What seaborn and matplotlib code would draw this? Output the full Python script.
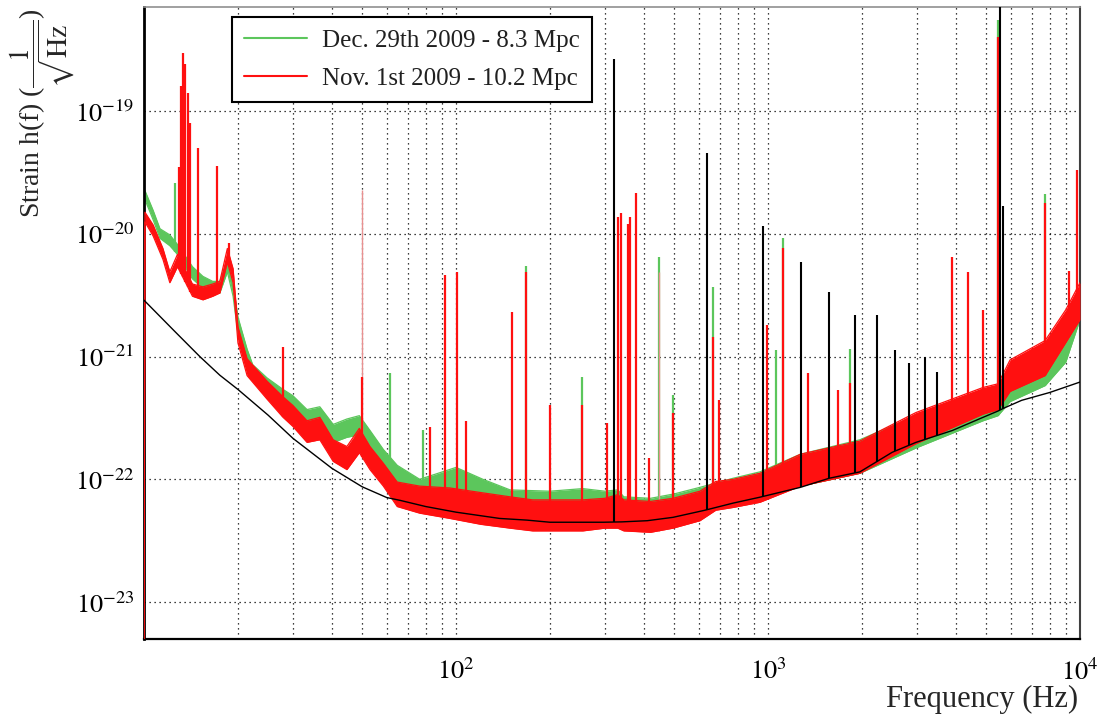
import numpy as np
import pandas as pd
import matplotlib
matplotlib.use("Agg")
import matplotlib.pyplot as plt
from matplotlib.lines import Line2D
from matplotlib.ticker import FixedLocator, NullFormatter, FuncFormatter, LogLocator
import seaborn as sns

# ---------------- data ----------------
# Black reference (design) sensitivity curve
ref_freq = [10, 12.5, 15.1, 17.5, 20, 25, 30, 40, 50, 60, 66, 80, 100, 138, 169,
            200, 296, 340, 410, 496, 628, 773, 942, 1270, 1570, 1970, 2500, 2980,
            3900, 4890, 5460, 5700, 6500, 8000, 10000]
ref_strain = [2.88e-21, 1.62e-21, 1.0e-21, 7.05e-22, 5.4e-22, 3.33e-22, 2.16e-22,
              1.23e-22, 8.7e-23, 7.1e-23, 6.75e-23, 6.0e-23, 5.4e-23, 4.8e-23,
              4.65e-23, 4.47e-23, 4.47e-23, 4.5e-23, 4.6e-23, 4.9e-23, 5.6e-23,
              6.4e-23, 7.15e-23, 8.6e-23, 1.02e-22, 1.15e-22, 1.66e-22, 2.0e-22,
              2.5e-22, 3.2e-22, 3.6e-22, 3.8e-22, 4.4e-22, 5.1e-22, 6.2e-22]
ref_spike_freq = [321, 637, 964, 1276, 1570, 1900, 2235, 2555, 2830, 3185, 3480, 5540, 5660]
ref_spike_peak = [2.65e-19, 4.55e-20, 1.16e-20, 5.9e-21, 3.35e-21, 2.2e-21, 2.2e-21,
                  1.13e-21, 8.8e-22, 9.9e-22, 7.5e-22, 1.0e-18, 1.68e-20]

# Nov. 1st 2009 (red): noise band lower / upper edges
nov_freq = [10.0, 10.07, 10.7, 11.5, 12.1, 12.8, 14.3, 15.45, 16.6, 17.5, 18.5, 19.3,
            20.0, 21.4, 24.8, 27.9, 30.0, 33.3, 36.6, 40.4, 44.7, 49.0, 53.0, 58.5,
            64.8, 76.5, 95.6, 120, 149, 176, 255, 300, 330, 345, 420, 496, 605,
            680, 773, 942, 1270, 1970, 2980, 4890, 5460, 5970, 7730, 9000, 10000]
nov_low = [5.0e-24, 1.25e-20, 9.6e-21, 6.2e-21, 4.0e-21, 5.4e-21, 3.1e-21, 2.9e-21,
           3.1e-21, 3.3e-21, 5.9e-21, 4.0e-21, 1.3e-21, 7.0e-22, 4.5e-22, 3.2e-22,
           2.7e-22, 2.0e-22, 2.1e-22, 1.4e-22, 1.2e-22, 1.65e-22, 1.2e-22, 8.8e-23,
           6.0e-23, 5.3e-23, 4.8e-23, 4.3e-23, 4.0e-23, 3.8e-23, 3.8e-23, 4.0e-23,
           4.0e-23, 3.8e-23, 3.7e-23, 4.0e-23, 4.6e-23, 5.6e-23, 5.9e-23, 6.5e-23,
           8.8e-23, 1.12e-22, 1.95e-22, 3.4e-22, 3.7e-22, 5.2e-22, 7.0e-22, 1.3e-21,
           2.0e-21]
nov_high = [5.0e-24, 1.5e-20, 1.18e-20, 7.6e-21, 4.9e-21, 6.8e-21, 3.9e-21, 3.7e-21,
            3.9e-21, 4.1e-21, 7.6e-21, 5.2e-21, 1.75e-21, 9.6e-22, 6.3e-22, 4.7e-22,
            4.0e-22, 3.0e-22, 3.2e-22, 2.1e-22, 1.85e-22, 2.6e-22, 1.85e-22, 1.35e-22,
            9.5e-23, 8.8e-23, 8.5e-23, 7.8e-23, 7.2e-23, 6.8e-23, 6.8e-23, 7.0e-23,
            7.5e-23, 6.8e-23, 6.6e-23, 7.0e-23, 8.0e-23, 9.6e-23, 1.0e-22, 1.12e-22,
            1.6e-22, 2.05e-22, 3.5e-22, 5.6e-22, 6.0e-22, 9.4e-22, 1.35e-21, 2.4e-21,
            4.0e-21]
nov_spike_freq = [12.9, 13.15, 13.3, 13.55, 13.8, 14.05, 14.9, 17.1, 18.7, 27.9,
                  50.0, 82.5, 92.0, 100.5, 108.0, 151.0, 168.0, 200.0, 253.0, 305.0,
                  330.0, 338.0, 356.0, 361.0, 378.0, 415.0, 496.0, 666.0, 697.0, 993.0,
                  1117.0, 1343.0, 1680.0, 1830.0, 3890.0, 4380.0, 4890.0, 5460.0,
                  7730.0, 9230.0, 9780.0]
nov_spike_peak = [3.5e-20, 1.6e-19, 2.97e-19, 2.4e-19, 1.4e-19, 8.0e-20, 5.0e-20,
                  3.6e-20, 8.4e-21, 1.19e-21, 6.8e-22, 2.66e-22, 4.6e-21, 4.9e-21,
                  3.0e-22, 2.3e-21, 4.9e-21, 4.0e-22, 4.0e-22, 2.86e-22, 1.37e-20,
                  1.48e-20, 1.2e-20, 1.37e-20, 2.15e-20, 1.5e-22, 3.5e-22, 1.44e-21,
                  4.4e-22, 1.8e-21, 7.6e-21, 7.3e-22, 5.3e-22, 6.1e-22, 6.45e-21,
                  4.9e-21, 2.4e-21, 4.0e-19, 1.78e-20, 5.0e-21, 3.3e-20]
nov_faint_freq = [50.0, 448.0]
nov_faint_peak = [2.27e-20, 4.9e-21]

# Dec. 29th 2009 (green): noise band lower / upper edges
dec_freq = [10.07, 10.7, 11.25, 12.1, 12.8, 14.3, 15.45, 16.6, 17.5, 18.5, 19.3,
            20.0, 21.4, 22.3, 24.8, 27.9, 30.0, 33.3, 36.6, 40.4, 44.7, 49.0, 53.0,
            58.5, 64.8, 76.5, 100, 122, 149, 200, 255, 300, 330, 345, 420, 500, 605,
            773, 942, 1270, 1970, 2980, 4890, 5460, 5970, 7730, 9000, 10000]
dec_low = [1.9e-20, 1.3e-20, 9.2e-21, 8.0e-21, 6.8e-21, 4.3e-21, 3.6e-21, 3.3e-21,
           3.3e-21, 4.9e-21, 3.1e-21, 1.55e-21, 8.7e-22, 6.6e-22, 5.1e-22, 4.0e-22,
           3.6e-22, 2.7e-22, 2.9e-22, 2.0e-22, 2.2e-22, 2.3e-22, 1.75e-22, 1.25e-22,
           9.0e-23, 6.8e-23, 7.0e-23, 6.2e-23, 5.2e-23, 5.0e-23, 5.2e-23, 5.0e-23,
           5.0e-23, 4.6e-23, 4.6e-23, 5.4e-23, 6.0e-23, 6.8e-23, 7.5e-23, 8.8e-23,
           1.12e-22, 1.8e-22, 3.0e-22, 3.3e-22, 4.3e-22, 5.8e-22, 9.0e-22, 2.0e-21]
dec_high = [2.25e-20, 1.55e-20, 1.1e-20, 9.8e-21, 8.2e-21, 5.4e-21, 4.5e-21, 4.1e-21,
            4.1e-21, 6.2e-21, 3.9e-21, 2.1e-21, 1.15e-21, 8.6e-22, 6.7e-22, 5.4e-22,
            4.8e-22, 3.7e-22, 3.9e-22, 2.8e-22, 3.1e-22, 3.3e-22, 2.5e-22, 1.75e-22,
            1.3e-22, 1.0e-22, 1.25e-22, 1.0e-22, 8.2e-23, 8.0e-23, 8.4e-23, 8.0e-23,
            8.2e-23, 7.2e-23, 7.0e-23, 7.6e-23, 8.6e-23, 1.02e-22, 1.15e-22, 1.6e-22,
            2.1e-22, 3.3e-22, 5.2e-22, 5.6e-22, 7.0e-22, 1.0e-21, 1.6e-21, 2.8e-21]
dec_spike_freq = [12.6, 61.4, 78.3, 168.0, 253.0, 448.0, 496.0, 666.0, 1062.0, 1117.0,
                  1830.0, 5460.0, 7730.0]
dec_spike_peak = [2.6e-20, 7.4e-22, 2.5e-22, 5.5e-21, 6.8e-22, 6.45e-21, 4.85e-22,
                  3.7e-21, 1.13e-21, 9.2e-21, 1.15e-21, 5.5e-19, 2.1e-20]

y_tick_values = [1e-23, 1e-22, 1e-21, 1e-20, 1e-19]
x_tick_values = [100, 1000, 10000]
legend_labels = ["Dec. 29th 2009 - 8.3 Mpc", "Nov. 1st 2009 - 10.2 Mpc"]

# ---------------- styling ----------------
sns.set_theme(style="white")
plt.rcParams['font.family'] = ['Liberation Serif', 'DejaVu Serif']
plt.rcParams['mathtext.fontset'] = 'stix'

GREEN = '#5cc65c'
RED = '#ff1010'
PINK = '#e89090'

fig = plt.figure(figsize=(11.11, 7.19), dpi=100)
ax = fig.add_axes([144 / 1111, 1 - 639 / 719, 936 / 1111, 632 / 719])
ax.set_xscale('log')
ax.set_yscale('log')


def foot(f, freq, low):
    return 10 ** np.interp(np.log10(f), np.log10(freq), np.log10(low))


def draw_series(freq, low, high, spike_f, spike_p, color, z):
    ax.fill_between(freq, low, high, color=color, lw=0, zorder=z)
    df = pd.DataFrame({'freq': list(freq) + list(freq),
                       'strain': list(low) + list(high),
                       'edge': ['low'] * len(freq) + ['high'] * len(freq)})
    sns.lineplot(data=df, x='freq', y='strain', units='edge', estimator=None,
                 color=color, lw=0.9, ax=ax, zorder=z, legend=False)
    ax.vlines(spike_f, foot(spike_f, freq, low), spike_p, colors=color,
              lw=1.6, zorder=z)


draw_series(dec_freq, dec_low, dec_high, dec_spike_freq, dec_spike_peak, GREEN, 2)
ax.vlines(nov_faint_freq, foot(nov_faint_freq, nov_freq[1:], nov_low[1:]),
          nov_faint_peak, colors=PINK, lw=1.0, zorder=2.5)
draw_series(nov_freq, nov_low, nov_high, nov_spike_freq, nov_spike_peak, RED, 3)

sns.lineplot(x=ref_freq, y=ref_strain, color='black', lw=1.0, ax=ax, zorder=4)
ax.vlines(ref_spike_freq, foot(ref_spike_freq, ref_freq, ref_strain), ref_spike_peak,
          colors='black', lw=1.5, zorder=4)

ax.set_xlim(10, 1e4)
ax.set_ylim(5.0e-24, 7.05e-19)

# ticks
pow_fmt = FuncFormatter(lambda v, p: r'$10^{%d}$' % int(round(np.log10(v))))
ax.xaxis.set_major_locator(FixedLocator(x_tick_values))
ax.xaxis.set_major_formatter(pow_fmt)
ax.xaxis.set_minor_locator(LogLocator(base=10, subs=np.arange(2, 10), numticks=30))
ax.xaxis.set_minor_formatter(NullFormatter())
ax.yaxis.set_major_locator(FixedLocator(y_tick_values))
ax.yaxis.set_major_formatter(pow_fmt)
ax.yaxis.set_minor_locator(LogLocator(base=10, subs=np.arange(2, 10), numticks=30))
ax.yaxis.set_minor_formatter(NullFormatter())

ax.tick_params(axis='both', which='both', direction='in', top=False, right=False,
               colors='black')
ax.tick_params(axis='both', which='major', length=16, width=1.3, labelsize=19)
ax.tick_params(axis='both', which='minor', length=8, width=1.0)
ax.tick_params(axis='x', which='major', pad=14)
ax.tick_params(axis='y', which='major', pad=7)

ax.grid(which='major', axis='both', color='black', lw=0.9, ls=(0, (1, 3)))
ax.grid(which='minor', axis='x', color='black', lw=0.9, ls=(0, (1, 3)))
ax.set_axisbelow(True)

for side, c, w in [('left', 'black', 2.0), ('bottom', 'black', 1.6),
                   ('top', '#909090', 1.2), ('right', '#404040', 1.5)]:
    ax.spines[side].set_color(c)
    ax.spines[side].set_linewidth(w)
    ax.spines[side].set_visible(True)

ax.set_xlabel('Frequency (Hz)', fontsize=22, loc='right')
ax.xaxis.set_label_coords(0.998, -0.072)
ax.set_ylabel(r'Strain h(f) ($\dfrac{1}{\sqrt{\mathrm{Hz}}}$)', fontsize=20, loc='top')
ax.yaxis.label.set_va('baseline')
ax.yaxis.set_label_coords(-0.112, 0.998)

handles = [Line2D([], [], color=GREEN, lw=1.5), Line2D([], [], color=RED, lw=1.5)]
leg = ax.legend(handles, legend_labels, loc='upper left', bbox_to_anchor=(0.094, 0.984),
                borderaxespad=0, fancybox=False, edgecolor='black', framealpha=1,
                fontsize=18, handlelength=2.5, handletextpad=0.6, labelspacing=0.6,
                borderpad=0.5)
leg.get_frame().set_linewidth(1.5)
for t in leg.get_texts():
    t.set_color('#202020')

fig.savefig('out.png', dpi=100)
